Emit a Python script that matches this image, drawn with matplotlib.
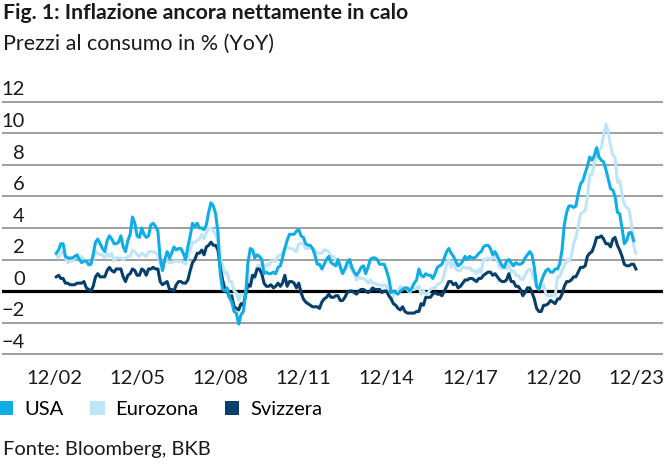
import numpy as np
import pandas as pd
import matplotlib
matplotlib.use('Agg')
import matplotlib.pyplot as plt
import matplotlib.dates as mdates
from matplotlib.patches import Patch

plt.rcParams['font.family'] = ['Lato', 'DejaVu Sans']

# Monthly CPI YoY in %, from 12/2002
usa = [2.4,
       2.6, 3.0, 3.0, 2.2, 2.1, 2.1, 2.1, 2.2, 2.3, 2.0, 1.8, 1.9,
       1.9, 1.7, 1.7, 2.3, 3.1, 3.3, 3.0, 2.7, 2.5, 3.2, 3.5, 3.3,
       3.0, 3.0, 3.1, 3.5, 2.8, 2.5, 3.2, 3.6, 4.7, 4.3, 3.5, 3.4,
       4.0, 3.6, 3.4, 3.5, 4.2, 4.3, 4.1, 3.8, 2.1, 1.3, 2.0, 2.5,
       2.1, 2.4, 2.8, 2.6, 2.7, 2.7, 2.4, 2.0, 2.8, 3.5, 4.3, 4.1,
       4.3, 4.0, 4.0, 3.9, 4.2, 5.0, 5.6, 5.4, 4.9, 3.7, 1.1, 0.1,
       0.0, 0.2, -0.4, -0.7, -1.3, -1.4, -2.1, -1.5, -1.3, -0.2, 1.8, 2.7,
       2.6, 2.1, 2.3, 2.2, 2.0, 1.1, 1.2, 1.1, 1.1, 1.2, 1.1, 1.5,
       1.6, 2.1, 2.7, 3.2, 3.6, 3.6, 3.6, 3.8, 3.9, 3.5, 3.4, 3.0,
       2.9, 2.9, 2.7, 2.3, 1.7, 1.7, 1.4, 1.7, 2.0, 2.2, 1.8, 1.7,
       1.6, 2.0, 1.5, 1.1, 1.4, 1.8, 2.0, 1.5, 1.2, 1.0, 1.2, 1.5,
       1.6, 1.1, 1.5, 2.0, 2.1, 2.1, 2.0, 1.7, 1.7, 1.7, 1.3, 0.8,
       -0.1, 0.0, -0.1, -0.2, 0.0, 0.1, 0.2, 0.2, 0.0, 0.2, 0.5, 0.7,
       1.4, 1.0, 0.9, 1.1, 1.0, 1.0, 0.8, 1.1, 1.5, 1.6, 1.7, 2.1,
       2.5, 2.7, 2.4, 2.2, 1.9, 1.6, 1.7, 1.9, 2.2, 2.0, 2.2, 2.1,
       2.1, 2.2, 2.4, 2.5, 2.8, 2.9, 2.9, 2.7, 2.3, 2.5, 2.2, 1.9,
       1.6, 1.5, 1.9, 2.0, 1.8, 1.6, 1.8, 1.7, 1.7, 1.8, 2.1, 2.3,
       2.5, 2.3, 1.5, 0.3, 0.1, 0.6, 1.0, 1.3, 1.4, 1.2, 1.2, 1.4,
       1.4, 1.7, 2.6, 4.2, 5.0, 5.4, 5.4, 5.3, 5.4, 6.2, 6.8, 7.0,
       7.5, 7.9, 8.5, 8.3, 8.6, 9.1, 8.5, 8.3, 8.2, 7.7, 7.1, 6.5,
       6.4, 6.0, 5.0, 4.9, 4.0, 3.0, 3.2, 3.7, 3.7, 3.2]

eurozona = [2.3,
            2.1, 2.4, 2.5, 2.1, 1.8, 1.9, 1.9, 2.1, 2.2, 2.0, 2.2, 2.0,
            1.9, 1.6, 1.7, 2.0, 2.5, 2.4, 2.3, 2.3, 2.1, 2.4, 2.2, 2.4,
            1.9, 2.1, 2.1, 2.1, 2.0, 2.1, 2.2, 2.2, 2.6, 2.5, 2.3, 2.2,
            2.4, 2.3, 2.2, 2.5, 2.5, 2.5, 2.4, 2.3, 1.7, 1.6, 1.9, 1.9,
            1.8, 1.8, 1.9, 1.9, 1.9, 1.9, 1.8, 1.7, 2.1, 2.6, 3.1, 3.1,
            3.2, 3.3, 3.6, 3.3, 3.7, 4.0, 4.0, 3.8, 3.6, 3.2, 2.1, 1.6,
            1.1, 1.2, 0.6, 0.6, 0.0, -0.1, -0.6, -0.2, -0.3, -0.1, 0.5, 0.9,
            1.0, 0.8, 1.6, 1.6, 1.7, 1.5, 1.7, 1.6, 1.9, 1.9, 1.9, 2.2,
            2.3, 2.4, 2.7, 2.8, 2.7, 2.7, 2.6, 2.5, 3.0, 3.0, 3.0, 2.7,
            2.7, 2.7, 2.7, 2.6, 2.4, 2.4, 2.4, 2.6, 2.6, 2.5, 2.2, 2.2,
            2.0, 1.8, 1.7, 1.2, 1.4, 1.6, 1.6, 1.3, 1.1, 0.7, 0.9, 0.8,
            0.8, 0.7, 0.5, 0.7, 0.5, 0.5, 0.4, 0.4, 0.3, 0.4, 0.3, -0.2,
            -0.6, -0.3, -0.1, 0.0, 0.3, 0.2, 0.2, 0.1, -0.1, 0.1, 0.1, 0.2,
            0.3, -0.2, 0.0, -0.2, -0.1, 0.1, 0.2, 0.2, 0.4, 0.5, 0.6, 1.1,
            1.7, 2.0, 1.5, 1.9, 1.4, 1.3, 1.3, 1.5, 1.5, 1.4, 1.5, 1.3,
            1.3, 1.1, 1.4, 1.2, 2.0, 2.0, 2.1, 2.0, 2.1, 2.3, 1.9, 1.5,
            1.4, 1.5, 1.4, 1.7, 1.2, 1.3, 1.0, 1.0, 0.8, 0.7, 1.0, 1.3,
            1.4, 1.2, 0.7, 0.3, 0.1, 0.3, 0.4, -0.2, -0.3, -0.3, -0.3, -0.3,
            0.9, 0.9, 1.3, 1.6, 2.0, 1.9, 2.2, 3.0, 3.4, 4.1, 4.9, 5.0,
            5.1, 5.9, 7.4, 7.4, 8.1, 8.6, 8.9, 9.1, 9.9, 10.6, 10.1, 9.2,
            8.6, 8.5, 6.9, 7.0, 6.1, 5.5, 5.3, 5.2, 4.3, 2.9, 2.4]

svizzera = [0.9,
            1.0, 0.8, 0.8, 0.5, 0.5, 0.4, 0.4, 0.4, 0.5, 0.5, 0.5, 0.6,
            0.2, 0.1, 0.0, 0.3, 0.9, 1.1, 0.9, 0.9, 0.9, 1.3, 1.5, 1.3,
            1.2, 1.4, 1.4, 1.4, 0.9, 0.6, 1.0, 1.1, 1.4, 1.3, 1.0, 1.0,
            1.4, 1.3, 1.0, 1.4, 1.4, 1.5, 1.4, 1.4, 0.6, 0.4, 0.5, 0.6,
            0.1, 0.1, 0.0, 0.4, 0.6, 0.6, 0.5, 0.5, 0.7, 1.3, 1.8, 2.0,
            2.4, 2.4, 2.6, 2.3, 2.8, 2.9, 3.1, 2.9, 2.9, 2.6, 1.5, 0.7,
            0.1, 0.0, -0.4, -0.3, -1.0, -1.1, -1.2, -0.8, -0.9, -0.2, 0.4, 0.3,
            1.0, 0.9, 1.4, 1.4, 1.1, 0.5, 0.3, 0.3, 0.4, 0.2, 0.3, 0.5,
            0.3, 0.5, 1.0, 0.3, 0.6, 0.6, 0.5, 0.2, 0.5, -0.1, -0.5, -0.7,
            -0.8, -0.9, -1.0, -1.0, -1.0, -1.1, -0.7, -0.5, -0.4, -0.2, -0.4, -0.4,
            -0.3, -0.3, -0.6, -0.6, -0.4, -0.1, 0.0, 0.0, -0.1, -0.2, 0.0, 0.1,
            0.1, 0.0, -0.1, 0.0, 0.2, 0.1, 0.1, 0.1, -0.1, 0.0, 0.0, -0.3,
            -0.5, -0.8, -0.9, -1.1, -1.2, -1.0, -1.3, -1.4, -1.4, -1.4, -1.4, -1.3,
            -1.3, -0.8, -0.9, -0.4, -0.4, -0.4, -0.2, -0.1, -0.2, -0.2, -0.3, 0.0,
            0.3, 0.6, 0.6, 0.4, 0.5, 0.2, 0.3, 0.5, 0.7, 0.7, 0.8, 0.8,
            0.7, 0.6, 0.8, 0.8, 1.0, 1.1, 1.2, 1.2, 1.0, 1.1, 0.9, 0.7,
            0.6, 0.6, 0.7, 1.1, 0.6, 0.6, 0.3, 0.3, 0.1, -0.3, -0.1, 0.2,
            0.2, -0.1, -0.5, -1.1, -1.3, -1.3, -0.9, -0.9, -0.8, -0.6, -0.7, -0.8,
            -0.5, -0.5, -0.2, 0.3, 0.6, 0.6, 0.7, 0.9, 0.9, 1.2, 1.5, 1.5,
            1.6, 2.2, 2.4, 2.5, 2.9, 3.4, 3.4, 3.5, 3.3, 3.0, 3.0, 2.8,
            3.3, 3.4, 2.9, 2.6, 2.2, 1.7, 1.6, 1.6, 1.7, 1.7, 1.4]

start_month = '2002-12-31'
series_names = ['USA', 'Eurozona', 'Svizzera']
y_ticks = [-4, -2, 0, 2, 4, 6, 8, 10, 12]
x_tick_dates = ['2002-12-01', '2005-12-01', '2008-12-01', '2011-12-01',
                '2014-12-01', '2017-12-01', '2020-12-01', '2023-12-01']
x_tick_labels = ['12/02', '12/05', '12/08', '12/11', '12/14', '12/17', '12/20', '12/23']

col_usa = '#0fade6'
col_eur = '#bfe4f8'
col_ch = '#053f6b'
txt_col = '#1a1a1a'

W, H = 670, 468
fig = plt.figure(figsize=(W / 100, H / 100), dpi=100)
# axes box in pixels: x 2..663, y 98.8..357.2
ax = fig.add_axes([2 / W, 1 - 357.2 / H, 661 / W, (357.2 - 98.8) / H])

def dates_for(vals):
    return pd.date_range(start_month, periods=len(vals), freq='ME')

ax.plot(dates_for(eurozona), eurozona, color=col_eur, lw=2.2, zorder=3)
ax.plot(dates_for(svizzera), svizzera, color=col_ch, lw=2.2, zorder=4)
ax.plot(dates_for(usa), usa, color=col_usa, lw=2.2, zorder=5)

# grid lines
for t in y_ticks:
    if t == 0:
        ax.axhline(t, color='black', lw=2.3, zorder=2)
    else:
        ax.axhline(t, color='#8f8f8f', lw=1.2, zorder=1)

ax.set_ylim(-4.2, 12.2)

# x limits so that 12/02 sits at px 54 and 12/23 at px 636
tick_nums = mdates.date2num(pd.to_datetime(x_tick_dates))
ppd = (636 - 54) / (tick_nums[-1] - tick_nums[0])
ax.set_xlim(tick_nums[0] - (54 - 2) / ppd, tick_nums[-1] + (663 - 636) / ppd)

ax.set_xticks(tick_nums)
ax.set_xticklabels(x_tick_labels, fontsize=14.5, color=txt_col)
ax.tick_params(axis='x', length=0, pad=9)
ax.set_yticks([])
for s in ax.spines.values():
    s.set_visible(False)
ax.patch.set_alpha(0)

# y labels sit above their gridlines
ytrans = ax.get_yaxis_transform()
for t in y_ticks:
    lbl = str(t).replace('-', '\u2212')
    ax.text(23 / 661, t + 0.22, lbl, transform=ytrans, ha='right', va='bottom',
            fontsize=14.5, color=txt_col)

fig.text(3 / W, 1 - 3 / H, 'Fig. 1: Inflazione ancora nettamente in calo',
         fontsize=15.3, fontweight='bold', ha='left', va='top', color=txt_col)
fig.text(3 / W, 1 - 34 / H, 'Prezzi al consumo in % (YoY)',
         fontsize=15.5, ha='left', va='top', color=txt_col)

handles = [Patch(facecolor=c, edgecolor='none') for c in [col_usa, col_eur, col_ch]]
fig.legend(handles, series_names, loc='upper left', bbox_to_anchor=(-1 / W, 1 - 401 / H),
           ncol=3, frameon=False, fontsize=14.5, handlelength=0.72, handleheight=0.72,
           handletextpad=0.55, columnspacing=1.3, borderaxespad=0, borderpad=0)

fig.text(3 / W, 1 - 441 / H, 'Fonte: Bloomberg, BKB', fontsize=14.5, ha='left', va='top',
         color=txt_col)

fig.savefig('out.png', dpi=100)
